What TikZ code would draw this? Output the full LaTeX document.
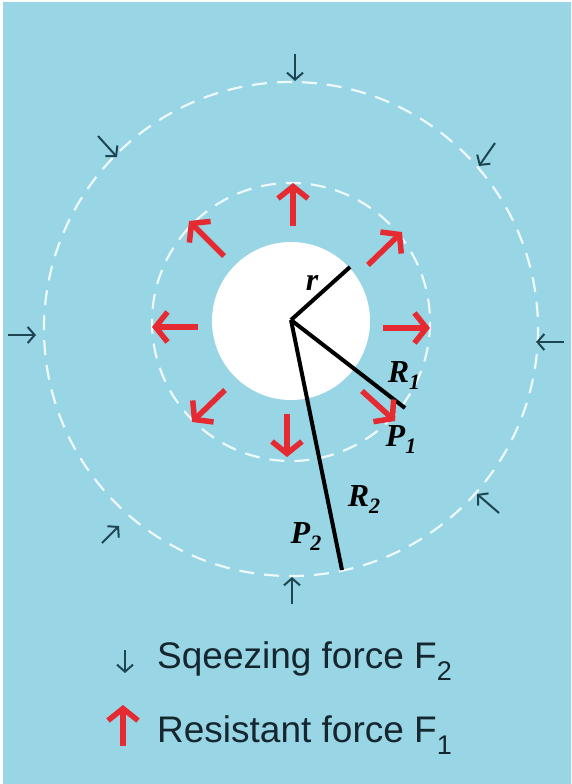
\documentclass[tikz,border=0pt]{standalone}
\usepackage{fontspec}
\setmainfont{Liberation Sans}
\newfontfamily\tnr{Liberation Serif}
\usetikzlibrary{arrows.meta}
\definecolor{bg}{HTML}{98D5E5}
\definecolor{redarr}{HTML}{E62A32}
\definecolor{darr}{HTML}{1E4652}
\definecolor{txt}{HTML}{16262E}
\begin{document}
\begin{tikzpicture}[x=1pt,y=-1pt,
  sq/.style={darr, line width=2pt, -{Straight Barb[length=7pt,width=16pt]}},
  rf/.style={redarr, line width=5.5pt, -{Straight Barb[length=12pt,width=30pt]}},
  dashcirc/.style={white!85!bg, line width=2.2pt, dash pattern=on 15pt off 10pt},
  rad/.style={black, line width=4pt},
  lab/.style={inner sep=0pt, font=\tnr\bfseries\itshape\fontsize{32}{32}\selectfont},
  leg/.style={inner sep=0pt, anchor=base west, text=txt, font=\fontsize{37}{40}\selectfont}]
\fill[white] (0,0) rectangle (571,784);
\fill[bg] (3,2) rectangle (571,784);
\useasboundingbox (0,0) rectangle (571,784);
% circles
\draw[dashcirc] (291,329) circle[radius=247];
\draw[dashcirc] (291,322) circle[radius=139];
\fill[white] (291,321) circle[radius=79];
% radii
\coordinate (c) at (291,320);
\coordinate (rend) at (350,267);
\coordinate (r1end) at (405,408);
\coordinate (r2end) at (342,570);
\draw[rad] (c) -- (rend);
\draw[rad] (c) -- (r1end);
\draw[rad] (c) -- (r2end);
% red resistant arrows
\foreach \n/\ax/\ay/\bx/\by in {u/293/226/293/183, ri/383/328/430/328, d/287/414/287/457, le/198/327/152/327,
    ne/368/265/402/232, se/362/391/395/421, nw/224/256/189/221, sw/225/390/192/422}{
  \coordinate (rt\n) at (\ax,\ay);
  \coordinate (rh\n) at (\bx,\by);
  \draw[rf] (rt\n) -- (rh\n);
}
% small squeezing arrows
\foreach \n/\ax/\ay/\bx/\by in {u/295/54/295/81, d/292/604/292/577, l/8/335/36/335, r/564/342/536/342,
    tl/98/136/117/157, tr/495/143/479/166, bl/102/543/119/526, br/499/513/477/494}{
  \coordinate (st\n) at (\ax,\ay);
  \coordinate (sh\n) at (\bx,\by);
  \draw[sq] (st\n) -- (sh\n);
}
% labels
\node[lab] (lr) at (312,283) {r};
\node[lab] (lR1) at (404,376) {R\raisebox{-7pt}{\fontsize{22}{22}\selectfont 1}};
\node[lab] (lP1) at (401,440) {P\raisebox{-7pt}{\fontsize{22}{22}\selectfont 1}};
\node[lab] (lR2) at (364,500) {R\raisebox{-7pt}{\fontsize{22}{22}\selectfont 2}};
\node[lab] (lP2) at (306,537) {P\raisebox{-7pt}{\fontsize{22}{22}\selectfont 2}};
% legend
\coordinate (l1t) at (125,650);
\coordinate (l1h) at (125,673);
\draw[sq] (l1t) -- (l1h);
\coordinate (l2t) at (123,746);
\coordinate (l2h) at (123,705);
\draw[rf] (l2t) -- (l2h);
\node[leg] (t1) at (157,668) {Sqeezing force F\raisebox{-12pt}{\fontsize{27}{27}\selectfont 2}};
\node[leg] (t2) at (157,742) {Resistant force F\raisebox{-12pt}{\fontsize{27}{27}\selectfont 1}};
\end{tikzpicture}
\end{document}
